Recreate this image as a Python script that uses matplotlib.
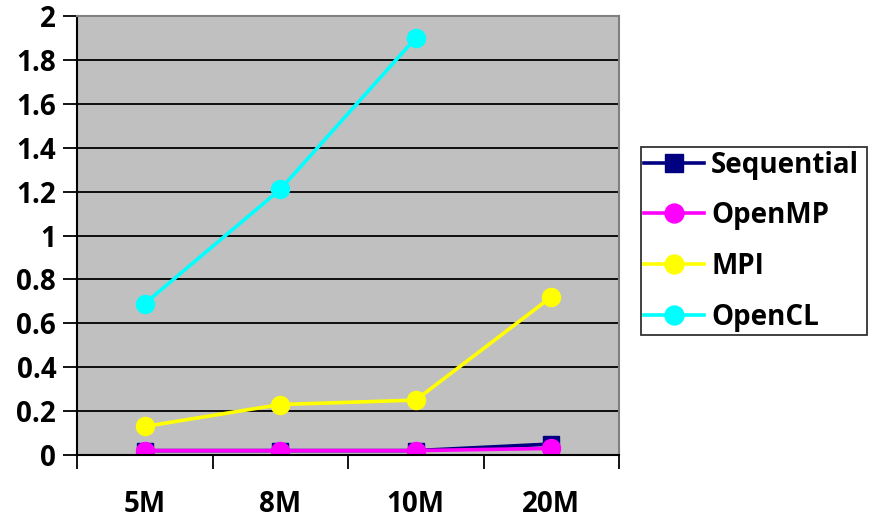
import numpy as np
import matplotlib.pyplot as plt

# series values per problem size
sizes = ["5M", "8M", "10M", "20M"]
sequential = [0.02, 0.02, 0.02, 0.05]
openmp = [0.02, 0.02, 0.02, 0.03]
mpi = [0.13, 0.23, 0.25, 0.72]
opencl = [0.69, 1.21, 1.90, np.nan]

plt.rcParams['font.family'] = ['Open Sans', 'DejaVu Sans']
plt.rcParams['font.weight'] = 'bold'

fig = plt.figure(figsize=(8.69, 5.21), dpi=100)
ax = fig.add_axes([77 / 869, 1 - 455 / 521, 542 / 869, 439 / 521])
ax.set_facecolor('#c0c0c0')

x = np.arange(len(sizes))
ax.plot(x, sequential, color='#000080', marker='s', markersize=12, lw=2.6, label='Sequential')
ax.plot(x, openmp, color='#ff00ff', marker='o', markersize=13, lw=2.6, label='OpenMP')
ax.plot(x, mpi, color='#ffff00', marker='o', markersize=13, lw=2.6, label='MPI')
ax.plot(x, opencl, color='#00ffff', marker='o', markersize=13, lw=2.6, label='OpenCL')

ax.set_xlim(-0.5, 3.5)
ax.set_ylim(0, 2)
ax.set_yticks(np.arange(0, 2.01, 0.2))
ax.set_yticklabels(['0', '0.2', '0.4', '0.6', '0.8', '1', '1.2', '1.4', '1.6', '1.8', '2'],
                   fontsize=20, fontweight='bold')
ax.grid(axis='y', color='black', lw=1.3)
ax.set_axisbelow(True)

# category ticks sit between groups, labels centred under each point
ax.set_xticks(np.arange(-0.5, 3.6, 1.0))
ax.set_xticklabels([])
ax.set_xticks(x, minor=True)
ax.set_xticklabels(sizes, minor=True, fontsize=20, fontweight='bold')
ax.tick_params(axis='x', which='major', length=10, width=1.3, direction='out')
ax.tick_params(axis='x', which='minor', length=0, pad=25)
ax.tick_params(axis='y', length=10, width=1.3, pad=5)

for side in ['left', 'bottom']:
    ax.spines[side].set_color('black')
    ax.spines[side].set_linewidth(1.5)
for side in ['top', 'right']:
    ax.spines[side].set_color('#808080')
    ax.spines[side].set_linewidth(1.5)

leg = ax.legend(loc='center left', bbox_to_anchor=(641 / 869, 1 - 337 / 521, 226 / 869, 192 / 521),
                bbox_transform=fig.transFigure, prop={'size': 20, 'weight': 'bold'},
                frameon=True, fancybox=False, edgecolor='black', handlelength=2.15,
                handletextpad=0.25, labelspacing=0.78, borderaxespad=0, borderpad=0.12,
                mode='expand', markerscale=1.05)
leg.get_frame().set_linewidth(1.3)

fig.savefig('out.png', dpi=100)
